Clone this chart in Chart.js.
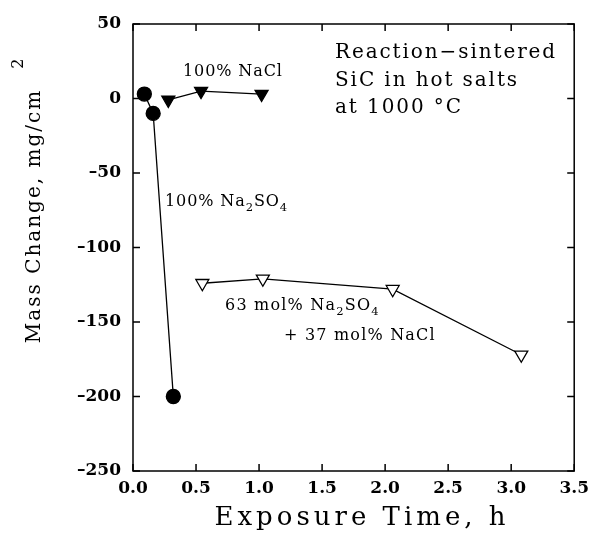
<!DOCTYPE html>
<html>
<head>
<meta charset="utf-8">
<script src="https://cdn.jsdelivr.net/npm/chart.js@4.4.1/dist/chart.umd.min.js"></script>
<style>
  html, body { margin: 0; padding: 0; background: #fff; }
  #wrap { width: 596px; height: 542px; position: relative; }
</style>
</head>
<body>
<div id="wrap"><canvas id="chart"></canvas></div>
<script>
// ---------- data ----------
const sulfateTime = [0.09, 0.16, 0.32];
const sulfateMass = [3, -10, -200];

const naclTime = [0.28, 0.54, 1.02];
const naclMass = [-1, 5, 3];

const mixTime = [0.55, 1.03, 2.06, 3.08];
const mixMass = [-124, -121, -128, -172];

const xTicks = [0, 0.5, 1, 1.5, 2, 2.5, 3, 3.5];
const yTicks = [-250, -200, -150, -100, -50, 0, 50];

const SERIF = "'DejaVu Serif', 'Liberation Serif', serif";

const pts = (xs, ys) => xs.map((x, i) => ({ x, y: ys[i] }));

// draws a run of text pieces, some as subscript / superscript
function drawRich(ctx, parts, x, y, size, spacing) {
  ctx.save();
  ctx.textBaseline = 'middle';
  ctx.textAlign = 'left';
  ctx.letterSpacing = spacing + 'px';
  let cx = x;
  parts.forEach(([txt, mode]) => {
    const s = mode ? size * 0.72 : size;
    const dy = mode === 'sub' ? size * 0.38 : mode === 'sup' ? -size * 0.45 : 0;
    ctx.font = s + 'px ' + SERIF;
    ctx.fillText(txt, cx, y + dy);
    cx += ctx.measureText(txt).width;
  });
  ctx.restore();
}

const framePlugin = {
  id: 'frame',
  afterDraw(chart) {
    const { ctx, chartArea: a, scales } = chart;
    ctx.save();
    ctx.strokeStyle = '#000';
    ctx.lineWidth = 1.5;
    ctx.strokeRect(a.left, a.top, a.right - a.left, a.bottom - a.top);

    // inward ticks on all four sides
    const L = 7;
    ctx.beginPath();
    xTicks.forEach(v => {
      const px = scales.x.getPixelForValue(v);
      ctx.moveTo(px, a.bottom); ctx.lineTo(px, a.bottom - L);
      ctx.moveTo(px, a.top); ctx.lineTo(px, a.top + L);
    });
    yTicks.forEach(v => {
      const py = scales.y.getPixelForValue(v);
      ctx.moveTo(a.left, py); ctx.lineTo(a.left + L, py);
      ctx.moveTo(a.right, py); ctx.lineTo(a.right - L, py);
    });
    ctx.stroke();
    ctx.restore();

    ctx.fillStyle = '#000';

    // axis titles
    ctx.save();
    ctx.font = '26px ' + SERIF;
    ctx.textAlign = 'center';
    ctx.textBaseline = 'middle';
    ctx.letterSpacing = '4px';
    ctx.fillText('Exposure Time, h', 362, 518);
    ctx.restore();

    ctx.save();
    ctx.translate(35, 216);
    ctx.rotate(-Math.PI / 2);
    ctx.font = '20px ' + SERIF;
    ctx.letterSpacing = '2px';
    const main = 'Mass Change, mg/cm';
    const w = ctx.measureText(main).width;
    ctx.textAlign = 'left';
    ctx.textBaseline = 'middle';
    ctx.fillText(main, -w / 2, 0);
    ctx.font = '16px ' + SERIF;
    ctx.fillText('2', w / 2 + 20, -16);
    ctx.restore();

    // annotations
    drawRich(ctx, [['Reaction\u2212sintered']], 335, 53, 20, 1.9);
    drawRich(ctx, [['SiC in hot salts']], 335, 81, 20, 1.9);
    drawRich(ctx, [['at 1000 \u00B0C']], 335, 108, 20, 1.9);

    drawRich(ctx, [['100% NaCl']], 183, 72, 16, 0.9);
    drawRich(ctx, [['100% Na'], ['2', 'sub'], ['SO'], ['4', 'sub']], 165, 202, 16, 0.9);
    drawRich(ctx, [['63 mol% Na'], ['2', 'sub'], ['SO'], ['4', 'sub']], 225, 306, 16, 1.2);
    drawRich(ctx, [['+ 37 mol% NaCl']], 284, 336, 16, 1.2);
  }
};

const lineStyle = { borderColor: '#000', borderWidth: 1.3, showLine: true, tension: 0 };

new Chart(document.getElementById('chart'), {
  type: 'scatter',
  data: {
    datasets: [
      { ...lineStyle, label: '100% Na2SO4', data: pts(sulfateTime, sulfateMass),
        pointStyle: 'circle', pointRadius: 7, pointBackgroundColor: '#000', pointBorderColor: '#000' },
      { ...lineStyle, label: '100% NaCl', data: pts(naclTime, naclMass),
        pointStyle: 'triangle', rotation: 180, pointRadius: 7.5, pointBackgroundColor: '#000', pointBorderColor: '#000' },
      { ...lineStyle, label: '63 mol% Na2SO4 + 37 mol% NaCl', data: pts(mixTime, mixMass),
        pointStyle: 'triangle', rotation: 180, pointRadius: 7.5, pointBackgroundColor: '#fff', pointBorderColor: '#000', pointBorderWidth: 1.3 }
    ]
  },
  options: {
    responsive: true,
    maintainAspectRatio: false,
    animation: false,
    layout: { padding: { top: 24, right: 21, left: 0, bottom: 0 } },
    plugins: { legend: { display: false }, tooltip: { enabled: false } },
    scales: {
      x: {
        type: 'linear', min: 0, max: 3.5,
        afterBuildTicks: s => { s.ticks = xTicks.map(v => ({ value: v })); },
        afterFit: s => { s.height = 71; },
        grid: { display: false, drawTicks: false },
        border: { display: false },
        ticks: { color: '#000', padding: 7, maxRotation: 0,
                 font: { family: SERIF, size: 17, weight: 'bold' },
                 callback: v => v.toFixed(1) }
      },
      y: {
        type: 'linear', min: -250, max: 50,
        afterBuildTicks: s => { s.ticks = yTicks.map(v => ({ value: v })); },
        afterFit: s => { s.width = 133; },
        grid: { display: false, drawTicks: false },
        border: { display: false },
        ticks: { color: '#000', padding: 12,
                 font: { family: SERIF, size: 17, weight: 'bold' },
                 callback: v => v < 0 ? '\u2013' + Math.abs(v) : String(v) }
      }
    }
  },
  plugins: [framePlugin]
});
</script>
</body>
</html>
